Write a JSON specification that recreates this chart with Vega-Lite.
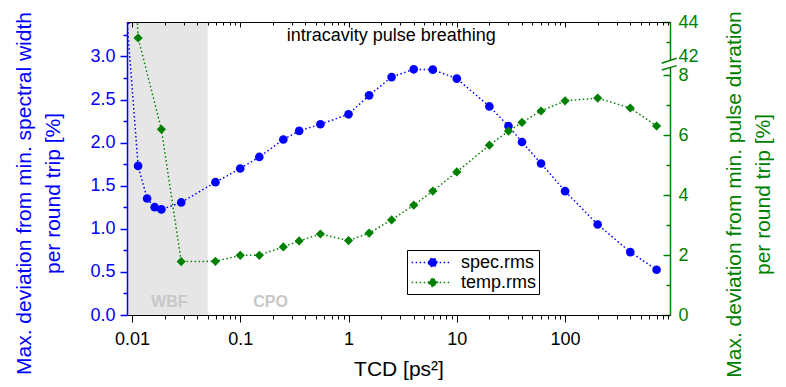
{
  "$schema": "https://vega.github.io/schema/vega-lite/v6.json",
  "width": 543,
  "height": 293,
  "autosize": {"type": "none"},
  "padding": {"left": 127, "top": 22, "right": 116, "bottom": 72},
  "background": "white",
  "config": {
    "font": "Liberation Sans",
    "view": {"stroke": null},
    "axis": {"grid": false, "labelFont": "Liberation Sans", "titleFont": "Liberation Sans", "titleFontWeight": "normal", "labelFlush": false, "labelOverlap": false, "labelBound": false}
  },
  "datasets": {
    "measurements": [
      {"series": "spec.rms", "tcd": 0.009, "value": 3.42},
      {"series": "spec.rms", "tcd": 0.0114, "value": 1.73},
      {"series": "spec.rms", "tcd": 0.0138, "value": 1.352},
      {"series": "spec.rms", "tcd": 0.0162, "value": 1.251},
      {"series": "spec.rms", "tcd": 0.0187, "value": 1.225},
      {"series": "spec.rms", "tcd": 0.0285, "value": 1.306},
      {"series": "spec.rms", "tcd": 0.059, "value": 1.541},
      {"series": "spec.rms", "tcd": 0.1, "value": 1.7},
      {"series": "spec.rms", "tcd": 0.15, "value": 1.834},
      {"series": "spec.rms", "tcd": 0.25, "value": 2.036},
      {"series": "spec.rms", "tcd": 0.35, "value": 2.136},
      {"series": "spec.rms", "tcd": 0.55, "value": 2.213},
      {"series": "spec.rms", "tcd": 1, "value": 2.329},
      {"series": "spec.rms", "tcd": 1.55, "value": 2.549},
      {"series": "spec.rms", "tcd": 2.5, "value": 2.761},
      {"series": "spec.rms", "tcd": 4, "value": 2.851},
      {"series": "spec.rms", "tcd": 6, "value": 2.847},
      {"series": "spec.rms", "tcd": 10, "value": 2.743},
      {"series": "spec.rms", "tcd": 20, "value": 2.42},
      {"series": "spec.rms", "tcd": 30, "value": 2.193},
      {"series": "spec.rms", "tcd": 40, "value": 2.008},
      {"series": "spec.rms", "tcd": 60, "value": 1.758},
      {"series": "spec.rms", "tcd": 100, "value": 1.437},
      {"series": "spec.rms", "tcd": 200, "value": 1.05},
      {"series": "spec.rms", "tcd": 400, "value": 0.73},
      {"series": "spec.rms", "tcd": 700, "value": 0.525},
      {"series": "temp.rms", "tcd": 0.009, "value": 55},
      {"series": "temp.rms", "tcd": 0.0114, "value": 43.2},
      {"series": "temp.rms", "tcd": 0.0187, "value": 6.19},
      {"series": "temp.rms", "tcd": 0.0285, "value": 1.78},
      {"series": "temp.rms", "tcd": 0.059, "value": 1.79},
      {"series": "temp.rms", "tcd": 0.1, "value": 1.99},
      {"series": "temp.rms", "tcd": 0.15, "value": 1.99},
      {"series": "temp.rms", "tcd": 0.25, "value": 2.27},
      {"series": "temp.rms", "tcd": 0.35, "value": 2.47},
      {"series": "temp.rms", "tcd": 0.55, "value": 2.7},
      {"series": "temp.rms", "tcd": 1, "value": 2.48},
      {"series": "temp.rms", "tcd": 1.55, "value": 2.73},
      {"series": "temp.rms", "tcd": 2.5, "value": 3.17},
      {"series": "temp.rms", "tcd": 4, "value": 3.66},
      {"series": "temp.rms", "tcd": 6, "value": 4.13},
      {"series": "temp.rms", "tcd": 10, "value": 4.77},
      {"series": "temp.rms", "tcd": 20, "value": 5.66},
      {"series": "temp.rms", "tcd": 30, "value": 6.13},
      {"series": "temp.rms", "tcd": 40, "value": 6.42},
      {"series": "temp.rms", "tcd": 60, "value": 6.8},
      {"series": "temp.rms", "tcd": 100, "value": 7.14},
      {"series": "temp.rms", "tcd": 200, "value": 7.23},
      {"series": "temp.rms", "tcd": 400, "value": 6.9},
      {"series": "temp.rms", "tcd": 700, "value": 6.3}
    ],
    "shade": [{"from": 0.009, "to": 0.05}],
    "regions": [
      {"label": "WBF", "tcd": 0.0221, "value": 0.154},
      {"label": "CPO", "tcd": 0.1905, "value": 0.154}
    ],
    "notes": [{"label": "intracavity pulse breathing", "tcd": 2.48, "value": 3.185}],
    "axisbreak": [{"tcd": 931, "value": 35}]
  },
  "layer": [
    {
      "data": {"name": "shade"},
      "mark": {"type": "rect", "color": "#e6e6e6"},
      "encoding": {
        "x": {"field": "from", "type": "quantitative", "scale": {"type": "log", "domain": [0.009, 931], "nice": false}, "axis": null},
        "x2": {"field": "to"}
      }
    },
    {
      "data": {"name": "regions"},
      "mark": {"type": "text", "fontSize": 16, "fontWeight": "bold", "color": "#c8c8c8", "align": "center", "baseline": "middle"},
      "encoding": {
        "x": {"field": "tcd", "type": "quantitative", "scale": {"type": "log", "domain": [0.009, 931], "nice": false}, "axis": null},
        "y": {"field": "value", "type": "quantitative", "scale": {"domain": [0, 3.4], "nice": false, "zero": true}, "axis": null},
        "text": {"field": "label"}
      }
    },
    {
      "data": {"name": "notes"},
      "mark": {"type": "text", "fontSize": 18, "color": "black", "align": "center", "baseline": "alphabetic"},
      "encoding": {
        "x": {"field": "tcd", "type": "quantitative", "scale": {"type": "log", "domain": [0.009, 931], "nice": false}, "axis": null},
        "y": {"field": "value", "type": "quantitative", "scale": {"domain": [0, 3.4], "nice": false, "zero": true}, "axis": null},
        "text": {"field": "label"}
      }
    },
    {
      "data": {"name": "measurements"},
      "transform": [{"filter": "datum.series === 'spec.rms'"}],
      "mark": {"type": "line", "color": "#0000ff", "strokeWidth": 1.5, "strokeDash": [1.5, 2.5], "clip": true},
      "encoding": {
        "x": {
          "field": "tcd", "type": "quantitative",
          "scale": {"type": "log", "domain": [0.009, 931], "nice": false},
          "axis": {
            "orient": "bottom",
            "values": [0.01,0.02,0.03,0.04,0.05,0.06,0.07,0.08,0.09,0.1,0.2,0.3,0.4,0.5,0.6,0.7,0.8,0.9,1,2,3,4,5,6,7,8,9,10,20,30,40,50,60,70,80,90,100,200,300,400,500,600,700,800,900],
            "labelExpr": "abs(log(datum.value)/LN10 - round(log(datum.value)/LN10)) < 0.001 ? format(datum.value, '~g') : ''",
            "tickSize": {"condition": {"test": "abs(log(datum.value)/LN10 - round(log(datum.value)/LN10)) > 0.001", "value": 4}, "value": 7},
            "domainColor": "black", "domainWidth": 1, "tickColor": "black", "tickWidth": 1,
            "labelFontSize": 18, "labelColor": "black", "labelPadding": 8,
            "title": "TCD [ps²]", "titleFontSize": 21, "titleColor": "black", "titleBaseline": "alphabetic", "titleY": 60,
            "zindex": 1
          }
        },
        "y": {
          "field": "value", "type": "quantitative",
          "scale": {"domain": [0, 3.4], "nice": false, "zero": true},
          "axis": {
            "orient": "left",
            "values": [0,0.25,0.5,0.75,1,1.25,1.5,1.75,2,2.25,2.5,2.75,3,3.25],
            "labelExpr": "round(datum.value*4) % 2 === 0 ? format(datum.value, '.1f') : ''",
            "tickSize": {"condition": {"test": "round(datum.value*4) % 2 === 1", "value": 4}, "value": 7},
            "domainColor": "#0000ff", "domainWidth": 1.5, "tickColor": "#0000ff", "tickWidth": 1.5,
            "labelColor": "#0000ff", "labelFontSize": 18, "labelPadding": 5,
            "title": ["Max. deviation from min. spectral width", "per round trip [%]"],
            "titleColor": "#0000ff", "titleFontSize": 21, "titleAngle": 270, "titleBaseline": "top", "titleAlign": "center",
            "titleX": -114, "titleY": 171, "titleLineHeight": 29,
            "zindex": 1
          }
        }
      }
    },
    {
      "data": {"name": "measurements"},
      "transform": [{"filter": "datum.series === 'spec.rms'"}],
      "mark": {"type": "point", "shape": "circle", "filled": true, "size": 75, "opacity": 1, "clip": true},
      "encoding": {
        "x": {
          "field": "tcd", "type": "quantitative",
          "scale": {"type": "log", "domain": [0.009, 931], "nice": false},
          "axis": {
            "orient": "top",
            "values": [0.01,0.02,0.03,0.04,0.05,0.06,0.07,0.08,0.09,0.1,0.2,0.3,0.4,0.5,0.6,0.7,0.8,0.9,1,2,3,4,5,6,7,8,9,10,20,30,40,50,60,70,80,90,100,200,300,400,500,600,700,800,900],
            "labels": false,
            "tickSize": {"condition": {"test": "abs(log(datum.value)/LN10 - round(log(datum.value)/LN10)) > 0.001", "value": -3}, "value": -5},
            "domainColor": "black", "domainWidth": 1, "tickColor": "black", "tickWidth": 1,
            "title": null, "zindex": 1
          }
        },
        "y": {"field": "value", "type": "quantitative", "scale": {"domain": [0, 3.4], "nice": false, "zero": true}, "axis": null},
        "color": {
          "field": "series", "type": "nominal",
          "scale": {"domain": ["spec.rms", "temp.rms"], "range": ["#0000ff", "#008000"]},
          "legend": {
            "title": null, "orient": "none", "legendX": 280, "legendY": 228, "direction": "vertical",
            "strokeColor": "black", "fillColor": "white", "padding": 2.5, "cornerRadius": 0,
            "labelFontSize": 18, "labelFont": "Liberation Sans", "labelColor": "black", "labelOffset": 31.5,
            "symbolSize": 324, "rowPadding": 1, "symbolOpacity": 1,
            "encode": {
              "symbols": {
                "update": {
                  "shape": {"signal": "datum.value === 'spec.rms' ? 'M-0.87,0L3.58,0M1,0A0.47,0.47,0,1,1,1.94,0A0.47,0.47,0,1,1,1,0Z' : 'M-0.87,0L3.58,0M0.95,0L1.47,-0.52L1.99,0L1.47,0.52Z'"},
                  "stroke": {"signal": "datum.value === 'spec.rms' ? '#0000ff' : '#008000'"},
                  "fill": {"signal": "datum.value === 'spec.rms' ? '#0000ff' : '#008000'"},
                  "strokeWidth": {"value": 1.5},
                  "strokeDash": {"value": [1.5, 2.5]},
                  "size": {"value": 324},
                  "opacity": {"value": 1}
                }
              }
            }
          }
        }
      }
    },
    {
      "data": {"name": "measurements"},
      "transform": [{"filter": "datum.series === 'temp.rms'"}],
      "mark": {"type": "line", "color": "#008000", "strokeWidth": 1.5, "strokeDash": [1.5, 2.5], "clip": true},
      "encoding": {
        "x": {"field": "tcd", "type": "quantitative", "scale": {"type": "log", "domain": [0.009, 931], "nice": false}, "axis": null},
        "y": {
          "field": "value", "type": "quantitative",
          "scale": {"domain": [0, 8, 42, 44], "range": [293, 53, 39.7, 0], "nice": false, "zero": false},
          "axis": {
            "orient": "right",
            "values": [0,1,2,3,4,5,6,7,8,42,43,44],
            "labelExpr": "datum.value % 2 === 0 ? datum.label : ''",
            "labelBaseline": {"condition": {"test": "datum.value === 42", "value": "alphabetic"}, "value": "middle"},
            "tickSize": {"condition": {"test": "datum.value % 2 === 1", "value": -4}, "value": -7},
            "domainColor": "#008000", "domainWidth": 1.5, "tickColor": "#008000", "tickWidth": 1.5,
            "labelColor": "#008000", "labelFontSize": 18, "labelPadding": 15,
            "title": ["Max. deviation from min. pulse duration", "per round trip [%]"],
            "titleColor": "#008000", "titleFontSize": 21, "titleAngle": 270, "titleBaseline": "top", "titleAlign": "center",
            "titleX": 53, "titleY": 172, "titleLineHeight": 29,
            "zindex": 0
          }
        }
      }
    },
    {
      "data": {"name": "measurements"},
      "transform": [{"filter": "datum.series === 'temp.rms'"}],
      "mark": {"type": "point", "shape": "diamond", "filled": true, "size": 85, "opacity": 1, "clip": true},
      "encoding": {
        "x": {"field": "tcd", "type": "quantitative", "scale": {"type": "log", "domain": [0.009, 931], "nice": false}, "axis": null},
        "y": {"field": "value", "type": "quantitative", "scale": {"domain": [0, 8, 42, 44], "range": [293, 53, 39.7, 0], "nice": false, "zero": false}, "axis": null},
        "color": {"field": "series", "type": "nominal", "scale": {"domain": ["spec.rms", "temp.rms"], "range": ["#0000ff", "#008000"]}}
      }
    },
    {
      "data": {"name": "axisbreak"},
      "mark": {"type": "point", "shape": "M-1.1,-0.16L0.89,-0.83L0.89,0.16L-1.1,0.73Z", "filled": true, "fill": "white", "strokeWidth": 0, "size": 225, "opacity": 1},
      "encoding": {
        "x": {"field": "tcd", "type": "quantitative", "scale": {"type": "log", "domain": [0.009, 931], "nice": false}, "axis": null},
        "y": {"field": "value", "type": "quantitative", "scale": {"domain": [0, 8, 42, 44], "range": [293, 53, 39.7, 0], "nice": false, "zero": false}, "axis": null}
      }
    },
    {
      "data": {"name": "axisbreak"},
      "mark": {"type": "point", "shape": "M-1.1,-0.16L0.89,-0.83M-1.1,0.73L0.89,0.16", "filled": false, "stroke": "#008000", "strokeWidth": 1.5, "size": 225, "opacity": 1},
      "encoding": {
        "x": {"field": "tcd", "type": "quantitative", "scale": {"type": "log", "domain": [0.009, 931], "nice": false}, "axis": null},
        "y": {"field": "value", "type": "quantitative", "scale": {"domain": [0, 8, 42, 44], "range": [293, 53, 39.7, 0], "nice": false, "zero": false}, "axis": null}
      }
    }
  ],
  "resolve": {"scale": {"y": "independent"}, "axis": {"y": "independent"}}
}
